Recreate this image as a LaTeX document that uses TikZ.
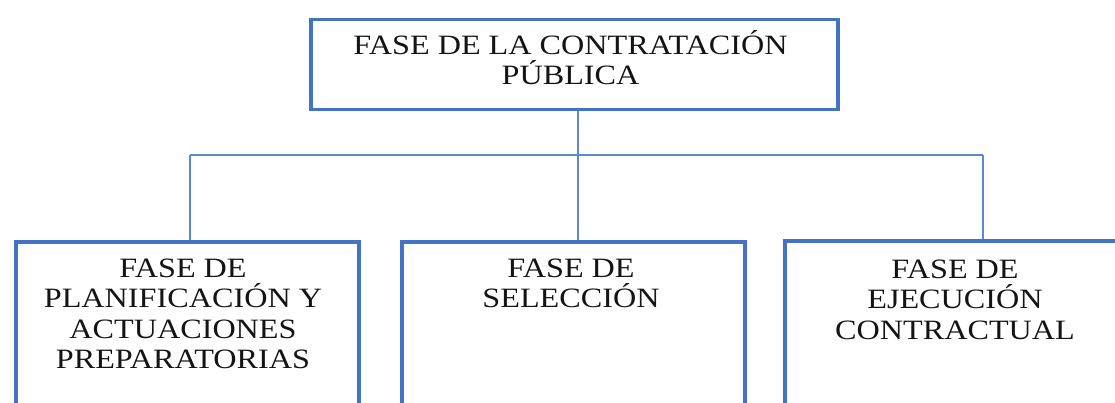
\documentclass[tikz,border=0pt]{standalone}
\usepackage{fontspec}
\setmainfont[FakeStretch=1.15]{Liberation Serif}
\definecolor{boxblue}{HTML}{4472C4}
\definecolor{lineblue}{HTML}{5A8AD2}
\begin{document}
\begin{tikzpicture}[x=1pt,y=1pt,
  box/.style={draw=boxblue, line width=3.5pt, anchor=north west, inner sep=0pt, minimum height=#1},
  box/.default=250,
  txt/.style={align=center, font=\fontsize{28}{30.5}\selectfont, inner sep=0pt, anchor=base, text=black!92},
  conn/.style={draw=lineblue, line width=1.6pt}]
\useasboundingbox (0,0) rectangle (1115,-403);
\node[box=90, minimum width=527] (top) at (309,-18) {};
\node[box, minimum width=343] (left) at (14,-240) {};
\node[box, minimum width=343] (mid) at (400,-240) {};
\node[box, minimum width=400] (right) at (783,-239) {};

% anchor=base is the baseline of the last line
\node[txt] (toptext) at (570.5,-85) {FASE DE LA CONTRATACIÓN\\PÚBLICA};
\node[txt] (lefttext) at (183,-368.5) {FASE DE\\PLANIFICACIÓN Y\\ACTUACIONES\\PREPARATORIAS};
\node[txt] (midtext) at (571,-307.5) {FASE DE\\SELECCIÓN};
\node[txt] (righttext) at (955,-339) {FASE DE\\EJECUCIÓN\\CONTRACTUAL};

\coordinate (j) at (578,-155);
\coordinate (bl) at (190,-155);
\coordinate (br) at (983,-155);
\draw[conn] (top.south -| j) -- (j);
\draw[conn] (bl) -- (br);
\draw[conn] (bl) -- (bl |- left.north);
\draw[conn] (j) -- (j |- mid.north);
\draw[conn] (br) -- (br |- right.north);
\end{tikzpicture}
\end{document}
